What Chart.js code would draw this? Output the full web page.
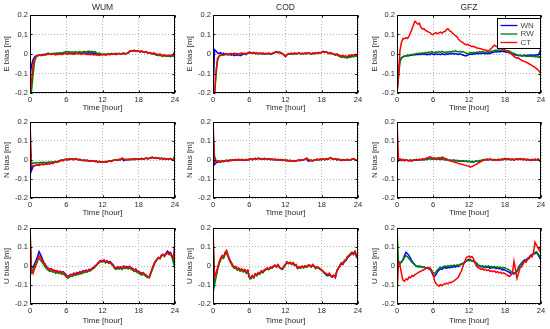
<!DOCTYPE html>
<html>
<head>
<meta charset="utf-8">
<script src="https://cdn.jsdelivr.net/npm/chart.js@4"></script>
<style>
  body { margin: 0; background: #fff; width: 550px; height: 329px; position: relative; overflow: hidden; }
  canvas { position: absolute; }
</style>
</head>
<body>
<script>
// sample times [hour]
const hours = [
  0,0.25,0.5,0.75, 1,1.25,1.5,1.75, 2,2.25,2.5,2.75, 3,3.25,3.5,3.75, 4,4.25,4.5,4.75, 5,5.25,5.5,5.75,
  6,6.25,6.5,6.75, 7,7.25,7.5,7.75, 8,8.25,8.5,8.75, 9,9.25,9.5,9.75, 10,10.25,10.5,10.75, 11,11.25,11.5,11.75,
  12,12.25,12.5,12.75, 13,13.25,13.5,13.75, 14,14.25,14.5,14.75, 15,15.25,15.5,15.75, 16,16.25,16.5,16.75, 17,17.25,17.5,17.75,
  18,18.25,18.5,18.75, 19,19.25,19.5,19.75, 20,20.25,20.5,20.75, 21,21.25,21.5,21.75, 22,22.25,22.5,22.75, 23,23.25,23.5,23.75,
  24
];

const centres = ['WUM', 'COD', 'GFZ'];
const components = ['E', 'N', 'U'];
const seriesNames = ['WN', 'RW', 'CT'];
const seriesColors = ['#0000ff', '#008000', '#ff0000'];
const xTicks = [0, 6, 12, 18, 24];
const yTicks = [-0.2, -0.1, 0, 0.1, 0.2];
const yTickLabels = ['-0.2', '-0.1', '0', '0.1', '0.2'];

// bias values in mm, one value per sample time
const wumE_WN = [
  -110,-60,-30,-15, -10,-7,-5,-6, -3,-5,-1,-2, 3,0,-1,2, 0,-2,2,0, 2,-1,3,4,
  5,2,6,3, 4,1,5,3, 4,6,2,5, 7,3,5,6, 4,7,2,5, 1,-2,0,-3,
  -3,-1,-4,-2, 0,-2,1,-1, 2,0,1,3, 0,2,4,1, 3,6,13,17, 15,19,14,16,
  14,11,15,10, 8,10,6,6, 4,1,3,-2, -3,-6,-2,-7, -9,-6,-11,-8, -10,-12,-7,-4,
  18
];
const wumE_RW = [
  -200,-190,-110,-40, -15,-10,-7,-6, -4,-2,-5,1, 4,0,3,1, 5,2,6,3, 7,4,8,10,
  14,10,12,8, 11,7,12,9, 10,13,8,11, 14,10,13,15, 11,14,9,12, 6,3,5,0,
  -2,1,-3,0, 2,-1,3,0, 2,4,1,3, 0,3,5,2, 4,7,13,18, 15,19,16,13,
  15,11,14,10, 8,11,6,5, 3,0,2,-4, -6,-9,-5,-10, -12,-8,-13,-10, -11,-14,-9,-12,
  -13
];
const wumE_CT = [
  -200,-140,-55,-22, -12,-8,-6,-9, -5,-7,-3,-4, 2,-1,-3,0, -2,-5,-1,-3, 0,-3,-1,2,
  1,-2,3,0, 2,-1,1,3, 0,2,-2,1, 3,-1,-3,-2, -4,-1,-5,-3, -6,-4,-7,-3,
  -5,-2,-6,-3, -1,-4,0,-2, 1,-3,0,2, -1,1,3,0, 2,5,12,16, 14,18,13,17,
  15,12,16,11, 9,12,7,8, 5,2,6,1, -1,-4,0,-5, -7,-4,-9,-6, -8,-5,-10,-7,
  -9
];

const codE_WN = [
  -200,22,15,6, 2,8,-2,4, -3,-1,-5,-2, -6,-3,-8,-4, -7,-3,-8,-5, -2,1,-3,4,
  8,5,3,6, 2,4,0,3, 1,3,-1,2, 0,3,-2,1, 5,8,11,7, 9,5,1,-5,
  -12,-3,1,-1, 3,0,4,1, 2,5,0,3, 1,4,2,5, 3,0,4,2, 5,3,7,4,
  11,14,10,11, 6,3,6,1, -1,-4,-1,-6, -10,-13,-9,-14, -13,-16,-10,-12, -8,-11,-5,-9,
  -6
];
const codE_RW = [
  -200,-210,-110,-35, -12,-7,-4,-6, -2,1,-3,0, 2,-1,3,0, 1,-2,2,4, 1,3,0,5,
  8,6,4,7, 3,5,1,4, 2,4,0,3, 1,4,-1,2, 5,8,11,7, 9,5,1,-5,
  -11,-3,1,-1, 3,0,4,1, 2,5,0,3, 1,4,2,5, 3,0,4,2, 5,3,7,4,
  10,13,9,11, 5,2,6,0, -2,-6,-3,-9, -13,-17,-14,-19, -17,-21,-15,-18, -12,-15,-9,-13,
  -11
];
const codE_CT = [
  -200,-210,-85,-22, -10,-6,-3,-5, -1,2,-2,1, 3,0,4,1, 2,-1,3,5, 2,4,1,6,
  10,7,5,8, 4,6,2,5, 3,5,1,4, 2,5,0,3, 6,9,12,8, 10,6,2,-6,
  -13,-4,2,0, 4,1,5,2, 3,6,1,4, 2,5,3,6, 4,1,5,3, 6,4,8,5,
  9,12,8,10, 6,3,7,2, 0,-3,1,-5, -8,-11,-7,-12, -10,-13,-8,-6, -4,-7,-2,-6,
  -4
];

const gfzE_WN = [
  -200,-90,-30,-20, -15,-12,-10,-8, -9,-5,-7,-3, -5,-1,-4,0, -3,1,-2,0, -4,0,-3,2,
  -1,-4,1,-2, 0,-3,2,-1, -3,1,-2,2, 0,3,-1,2, 0,-2,1,-3, -5,-8,-10,-6,
  -3,0,-2,1, 0,3,1,4, 2,5,3,1, 4,1,3,6, 8,11,13,10, 14,11,15,12,
  12,8,10,6, 2,-1,-3,-5, -6,-9,-7,-10, -8,-5,-9,-6, -7,-4,-8,-5, -6,-3,-7,5,
  32
];
const gfzE_RW = [
  -200,-120,-40,-20, -14,-10,-12,-6, -8,-3,-6,0, -2,3,0,5, 2,6,3,8, 5,10,7,12,
  9,6,11,8, 12,9,14,10, 7,11,8,13, 10,15,12,17, 13,10,14,9, 12,8,5,2,
  4,7,5,9, 6,10,8,12, 9,13,10,8, 11,7,10,14, 15,18,20,17, 21,18,22,19,
  20,16,18,14, 10,6,3,-1, -4,-7,-5,-9, -11,-8,-12,-10, -13,-9,-14,-11, -15,-12,-17,-14,
  -22
];
const gfzE_CT = [
  -200,-110,20,60, 80,78,84,80, 92,108,128,150, 168,160,152,158, 135,128,130,120, 118,112,110,102,
  99,106,110,104, 108,112,106,114, 115,125,130,120, 115,108,100,94, 88,75,68,62, 58,52,47,50,
  45,42,38,40, 36,32,30,28, 27,24,20,21, 18,14,22,30, 38,45,40,35, 33,30,27,24,
  20,15,10,5, 2,-5,-12,-18, -22,-20,-28,-32, -36,-38,-42,-45, -50,-55,-60,-64, -68,-75,-82,-90,
  -102
];

const wumN_WN = [
  40,-55,-35,-30, -27,-25,-28,-23, -21,-24,-19,-22, -17,-20,-15,-18, -13,-9,-12,-7, -4,0,-3,2,
  4,1,6,3, 5,2,6,4, 1,3,-1,-3, -1,-4,-2,-6, -4,-7,-5,-8, -7,-10,-8,-11,
  -9,-12,-8,-10, -6,-4,-7,-2, -1,1,-2,3, 2,8,-4,1, 3,1,4,2, 5,2,6,3,
  6,4,8,5, 7,10,6,9, 11,14,9,12, 8,11,6,9, 5,8,3,6, 4,7,2,0,
  15
];
const wumN_RW = [
  80,-15,-18,-14, -16,-13,-17,-12, -14,-11,-15,-12, -13,-10,-12,-9, -11,-7,-10,-5, -3,1,-2,3,
  5,2,7,4, 6,3,7,4, 2,4,0,-2, 0,-3,-1,-5, -3,-6,-4,-7, -6,-9,-7,-10,
  -8,-11,-7,-9, -5,-3,-6,-1, 0,2,-1,4, 3,9,5,2, 4,2,5,3, 6,3,7,4,
  7,5,9,6, 8,11,7,10, 12,15,10,13, 9,12,7,10, 6,9,4,7, 5,8,3,6,
  25
];
const wumN_CT = [
  200,-25,-32,-30, -28,-26,-29,-24, -22,-25,-20,-23, -18,-21,-16,-19, -14,-10,-13,-8, -5,-1,-4,2,
  4,1,6,3, 5,2,6,4, 1,3,-1,-3, -1,-4,-2,-6, -4,-7,-5,-8, -7,-10,-8,-11,
  -9,-12,-8,-10, -6,-4,-7,-2, -1,1,-2,3, 2,10,4,1, 3,1,4,2, 5,2,6,3,
  6,4,8,5, 7,10,6,9, 11,14,9,12, 8,11,6,9, 5,8,3,6, 4,7,2,-2,
  12
];

const codN_WN = [
  -10,-25,-15,-12, -8,-12,-6,-9, -6,-3,-7,-2, -3,0,-2,1, 0,2,-1,1, 0,-2,2,0,
  3,5,2,4, 8,5,9,6, 7,4,8,5, 3,6,2,4, 1,3,0,2, 0,1,-2,0,
  -3,-2,-5,-3, -6,-4,-7,-5, -3,-1,-3,0, 1,3,8,-6, -4,-2,-5,-1, 1,3,0,4,
  2,5,1,6, 4,8,10,5, 3,6,1,4, 0,-2,1,-1, 0,2,-1,1, 3,6,2,0,
  -5
];
const codN_RW = [
  150,20,-2,-5, -4,-8,-3,-6, -3,-1,-4,0, -2,2,-1,3, 1,3,0,2, 1,-1,3,1,
  4,6,3,5, 8,6,9,7, 7,5,8,6, 4,6,3,5, 2,4,1,3, 1,2,-1,1,
  -2,-1,-4,-2, -5,-3,-6,-4, -2,0,-2,1, 2,4,9,3, -3,-1,-4,0, 2,4,1,4,
  3,5,2,6, 5,8,10,6, 4,6,2,5, 1,-1,2,0, 1,3,0,2, 4,6,3,2,
  -4
];
const codN_CT = [
  200,-12,-5,-9, -6,-10,-4,-8, -5,-2,-6,-1, -3,1,-2,2, 0,3,-1,2, 1,-2,2,0,
  3,6,2,5, 9,6,10,7, 8,5,9,6, 4,7,3,5, 2,4,1,3, 0,2,-2,1,
  -3,-1,-5,-2, -6,-3,-7,-4, -2,0,-3,1, 2,4,11,3, -4,-1,-5,0, 2,4,1,5,
  3,6,2,7, 5,9,12,6, 4,7,2,5, 1,-2,2,-1, 0,3,-1,2, 4,7,3,1,
  -6
];

const gfzN_WN = [
  80,-5,3,-3, 1,-4,0,-2, -4,-1,-5,0, -1,1,-2,2, 0,3,1,4, 3,6,8,5,
  4,7,3,6, 5,2,6,3, 1,3,-1,-3, -2,-4,-1,-5, -3,-6,-4,-7, -5,-8,-6,-9,
  -7,-10,-8,-11, -8,-6,-9,-4, -3,-1,2,0, 3,1,4,2, 0,2,-1,1, 3,0,4,2,
  5,2,6,3, 2,4,0,3, 5,2,6,4, 2,5,0,3, 1,-2,2,-1, 3,0,4,-1,
  -6
];
const gfzN_RW = [
  30,-2,5,0, 3,-2,2,-1, -3,0,-4,1, 0,2,-1,3, 1,4,2,5, 4,7,9,6,
  5,8,4,7, 6,3,7,4, 2,4,0,-2, -1,-3,0,-4, -2,-5,-3,-6, -4,-7,-5,-8,
  -6,-9,-7,-10, -7,-5,-8,-3, -2,0,3,1, 4,2,5,3, 1,3,0,2, 4,1,5,3,
  6,3,7,4, 3,5,1,4, 6,3,7,5, 3,6,1,4, 2,-1,3,0, 4,1,5,0,
  -5
];
const gfzN_CT = [
  200,0,6,-2, 2,-4,1,-3, -5,-2,-6,-1, 0,3,-1,4, 2,6,4,8, 10,14,18,13,
  9,12,8,11, 13,10,15,12, 8,5,2,-2, -5,-8,-11,-13, -15,-18,-20,-22, -24,-27,-29,-31,
  -33,-36,-34,-31, -26,-22,-17,-12, -8,-4,-1,2, 4,1,5,2, -1,2,-2,1, 3,0,4,6,
  9,6,3,5, 2,5,1,4, 6,3,7,4, 2,5,0,3, 1,-2,2,-1, 3,0,4,-3,
  -10
];

const wumU_WN = [
  20,-10,-5,10, 30,50,75,60, 40,22,10,-2, -12,-18,-14,-22, -22,-28,-24,-32, -28,-35,-30,-38,
  -48,-56,-50,-44, -46,-38,-42,-34, -38,-30,-34,-26, -28,-22,-26,-18, -20,-12,-8,0, 6,16,24,30,
  26,32,22,28, 20,24,14,7, -6,-10,-3,-8, -4,-10,0,-6, -2,-8,-1,-10, -13,-20,-16,-26,
  -28,-34,-38,-42, -48,-54,-58,-55, -36,-12,8,24, 34,44,42,56, 62,55,68,78, 70,72,55,35,
  110
];
const wumU_RW = [
  180,-35,-20,0, 20,35,40,30, 20,8,-5,-15, -22,-28,-25,-32, -30,-38,-33,-40, -36,-44,-40,-48,
  -58,-64,-60,-52, -55,-48,-50,-44, -46,-40,-42,-35, -36,-30,-32,-25, -26,-18,-14,-6, 2,12,18,24,
  20,26,16,22, 14,18,8,0, -14,-18,-12,-16, -12,-18,-8,-14, -10,-16,-9,-18, -22,-30,-26,-35,
  -38,-44,-48,-42, -50,-56,-62,-60, -40,-20,0,20, 32,42,38,52, 58,50,62,68, 60,62,45,15,
  90
];
const wumU_CT = [
  200,-25,-40,-15, 5,25,55,45, 30,18,8,-5, -12,-20,-15,-25, -22,-30,-25,-33, -28,-36,-32,-40,
  -50,-58,-52,-45, -48,-40,-44,-36, -40,-32,-36,-28, -30,-24,-28,-20, -22,-14,-10,-2, 5,15,22,28,
  24,30,20,26, 18,22,12,5, -8,-12,-5,-10, -6,-12,-2,-8, -4,-10,-3,-12, -15,-22,-18,-28,
  -30,-36,-40,-34, -42,-48,-55,-62, -35,-10,10,25, 35,45,40,55, 60,52,65,70, 62,68,50,40,
  130
];

const codU_WN = [
  75,-40,-50,-15, 15,35,50,45, 68,78,52,32, 18,3,-7,-4, -17,-12,-22,-17, -27,-20,-32,-24,
  -57,-64,-52,-60, -42,-48,-36,-40, -27,-32,-22,-17, -12,-18,-7,-10, -2,3,-5,6, -7,-14,-17,-2,
  8,20,13,18, 10,16,3,6, -12,-5,-10,-2, -8,0,-6,3, 3,-4,6,-2, -12,-6,-10,-17,
  -22,-30,-40,-48, -52,-45,-55,-58, -50,-60,-27,-12, -2,13,8,23, 28,43,50,58, 68,60,73,48,
  38
];
const codU_RW = [
  150,-100,-60,-20, 10,30,45,40, 60,70,48,28, 12,-2,-12,-10, -22,-18,-28,-22, -32,-26,-38,-30,
  -62,-68,-58,-64, -46,-52,-40,-44, -30,-36,-26,-20, -15,-20,-10,-12, -4,2,-6,4, -8,-15,-18,-4,
  6,18,12,16, 8,14,2,4, -14,-8,-12,-4, -10,-2,-8,1, 1,-6,4,-4, -14,-8,-12,-18,
  -24,-32,-38,-42, -48,-42,-54,-58, -50,-58,-28,-12, 5,18,15,30, 35,50,56,65, 72,66,78,55,
  45
];
const codU_CT = [
  200,-60,-35,-10, 20,40,55,48, 72,82,55,35, 20,5,-5,-2, -15,-10,-20,-15, -25,-18,-30,-22,
  -55,-62,-50,-58, -40,-46,-34,-38, -25,-30,-20,-15, -10,-16,-5,-8, 0,5,-3,8, -5,-12,-15,0,
  10,22,15,20, 12,18,5,8, -10,-3,-8,0, -6,2,-4,5, 5,-2,8,0, -10,-4,-8,-15,
  -20,-28,-35,-40, -45,-38,-50,-55, -48,-62,-25,-10, 0,15,10,25, 30,45,52,60, 70,62,75,50,
  40
];

const gfzU_WN = [
  30,25,15,20, 35,55,72,65, 55,40,25,15, 5,-2,0,-5, -2,-8,-5,-12, -10,-15,-18,-30,
  -48,-55,-45,-30, -22,-15,-18,-10, -8,-12,-6,-10, -5,-8,-2,-6, 0,-3,5,10, 12,18,25,32,
  35,30,28,25, 20,12,5,0, -5,-2,-8,-4, -8,-5,-12,-8, -10,-7,-14,-10, -15,-12,-20,-18,
  -22,-26,-30,-34, -38,-40,-42,-35, -25,-8,5,15, 25,32,30,40, 45,55,60,66, 65,72,60,45,
  30
];
const gfzU_RW = [
  200,20,10,25, 30,45,55,48, 38,30,18,12, 5,0,-5,0, -4,-8,-5,-10, -8,-12,-15,-25,
  -35,-40,-30,-20, -12,-6,-10,-2, 0,-4,2,-2, 3,0,5,2, 6,3,8,12, 15,20,25,30,
  28,33,25,30, 22,15,8,2, -2,2,-4,0, -3,1,-5,-2, -6,-2,-8,-5, -10,-6,-12,-8,
  -10,-14,-18,-22, -28,-32,-36,-38, -30,-15,0,10, 20,28,24,35, 40,50,55,62, 70,75,65,55,
  40
];
const gfzU_CT = [
  -150,20,5,-40, -75,-80,-68,-72, -58,-62,-50,-54, -45,-40,-36,-30, -28,-22,-20,-14, -12,-8,-10,-20,
  -40,-78,-92,-100, -106,-98,-104,-96, -95,-90,-94,-86, -88,-82,-78,-72, -66,-58,-40,-25, 0,20,42,48,
  52,45,50,38, 15,0,-8,-12, -18,-14,-22,-18, -24,-20,-28,-25, -30,-26,-34,-30, -36,-32,-40,-36,
  -40,-45,-50,-55, -48,-35,25,-20, -65,-40,-10,-5, 10,25,20,35, 40,55,48,70, 125,110,95,80,
  110
];

// panels[row][col] -> [WN, RW, CT]
const panels = [
  [[wumE_WN, wumE_RW, wumE_CT], [codE_WN, codE_RW, codE_CT], [gfzE_WN, gfzE_RW, gfzE_CT]],
  [[wumN_WN, wumN_RW, wumN_CT], [codN_WN, codN_RW, codN_CT], [gfzN_WN, gfzN_RW, gfzN_CT]],
  [[wumU_WN, wumU_RW, wumU_CT], [codU_WN, codU_RW, codU_CT], [gfzU_WN, gfzU_RW, gfzU_CT]]
];

// layout of the grid (canvas cell + plot area, page pixels)
const cols = [
  {cx: 2, cw: 183, L: 30, R: 175},
  {cx: 185, cw: 185, L: 213, R: 358},
  {cx: 370, cw: 180, L: 397, R: 541}
];
const rows = [
  {cy: 0, ch: 113, T: 15, B: 93},
  {cy: 114, ch: 104, T: 122, B: 198},
  {cy: 220, ch: 106, T: 228, B: 304}
];

const FONT = '"Liberation Sans", Arial, sans-serif';
const TEXT = '#2a2a2a';
Chart.defaults.font.family = FONT;
Chart.defaults.color = TEXT;

// box, inner ticks, title and legend (MATLAB style)
const framePlugin = {
  id: 'frame',
  afterDraw(chart, args, opts) {
    const {ctx, chartArea: a, scales: {x, y}} = chart;
    const l = Math.round(a.left) + 0.5, r = Math.round(a.right) - 0.5;
    const t = Math.round(a.top) + 0.5, b = Math.round(a.bottom) - 0.5;
    ctx.save();
    ctx.strokeStyle = '#000';
    ctx.lineWidth = 1;
    ctx.strokeRect(l, t, r - l, b - t);
    ctx.beginPath();
    xTicks.forEach(v => {
      const px = Math.round(x.getPixelForValue(v)) + 0.5;
      ctx.moveTo(px, b); ctx.lineTo(px, b - 2);
      ctx.moveTo(px, t); ctx.lineTo(px, t + 2);
    });
    yTicks.forEach(v => {
      const py = Math.round(y.getPixelForValue(v)) + 0.5;
      ctx.moveTo(l, py); ctx.lineTo(l + 2, py);
      ctx.moveTo(r, py); ctx.lineTo(r - 2, py);
    });
    ctx.stroke();

    if (opts.title) {
      ctx.fillStyle = TEXT;
      ctx.font = '8.5px ' + FONT;
      ctx.textAlign = 'center';
      ctx.textBaseline = 'middle';
      ctx.fillText(opts.title, (a.left + a.right) / 2, a.top - 7);
    }

    if (opts.legend) {
      const bx = Math.round(a.right) - 43.5, by = Math.round(a.top) + 3.5;
      ctx.fillStyle = '#fff';
      ctx.fillRect(bx, by, 43, 30);
      ctx.strokeStyle = '#000';
      ctx.strokeRect(bx, by, 43, 30);
      ctx.font = '8px ' + FONT;
      ctx.textAlign = 'left';
      ctx.textBaseline = 'middle';
      chart.data.datasets.forEach((ds, i) => {
        const ly = by + 7 + i * 8.5;
        ctx.strokeStyle = ds.borderColor;
        ctx.lineWidth = 1.3;
        ctx.beginPath();
        ctx.moveTo(bx + 3, ly); ctx.lineTo(bx + 20, ly);
        ctx.stroke();
        ctx.fillStyle = '#444';
        ctx.fillText(ds.label, bx + 23, ly);
      });
    }
    ctx.restore();
  }
};

panels.forEach((rowSeries, ri) => {
  rowSeries.forEach((series, ci) => {
    const col = cols[ci], row = rows[ri];
    const canvas = document.createElement('canvas');
    canvas.width = col.cw;
    canvas.height = row.ch;
    canvas.style.left = col.cx + 'px';
    canvas.style.top = row.cy + 'px';
    document.body.appendChild(canvas);

    new Chart(canvas.getContext('2d'), {
      type: 'line',
      data: {
        datasets: series.map((vals, si) => ({
          label: seriesNames[si],
          data: vals.map((v, k) => ({x: hours[k], y: v / 1000})),
          borderColor: seriesColors[si],
          borderWidth: 1.5,
          pointRadius: 0,
          tension: 0,
          order: 2 - si  // CT on top, WN at the bottom
        }))
      },
      options: {
        responsive: false,
        animation: false,
        events: [],
        layout: {
          padding: {left: 0, top: row.T - row.cy, right: col.cx + col.cw - col.R, bottom: 0}
        },
        scales: {
          x: {
            type: 'linear',
            min: 0, max: 24,
            afterBuildTicks: s => { s.ticks = xTicks.map(v => ({value: v})); },
            afterFit: s => { s.height = row.cy + row.ch - row.B; },
            ticks: {font: {size: 7.5}, padding: 2, maxRotation: 0, color: TEXT},
            grid: {color: '#b4b4b4', drawTicks: false, lineWidth: 1},
            border: {display: false, dash: [1, 2]},
            title: {display: true, text: 'Time [hour]', font: {size: 8}, padding: 0, color: TEXT}
          },
          y: {
            min: -0.2, max: 0.2,
            afterBuildTicks: s => { s.ticks = yTicks.map(v => ({value: v})); },
            afterFit: s => { s.width = col.L - col.cx; },
            ticks: {font: {size: 7.5}, padding: 2, color: TEXT, callback: (v, i) => yTickLabels[i]},
            grid: {color: '#b4b4b4', drawTicks: false, lineWidth: 1},
            border: {display: false, dash: [1, 2]},
            title: {display: true, text: components[ri] + ' bias [m]', font: {size: 8}, padding: 0, color: TEXT}
          }
        },
        plugins: {
          legend: {display: false},
          tooltip: {enabled: false},
          frame: {title: ri === 0 ? centres[ci] : '', legend: ri === 0 && ci === 2}
        }
      },
      plugins: [framePlugin]
    });
  });
});
</script>
</body>
</html>
